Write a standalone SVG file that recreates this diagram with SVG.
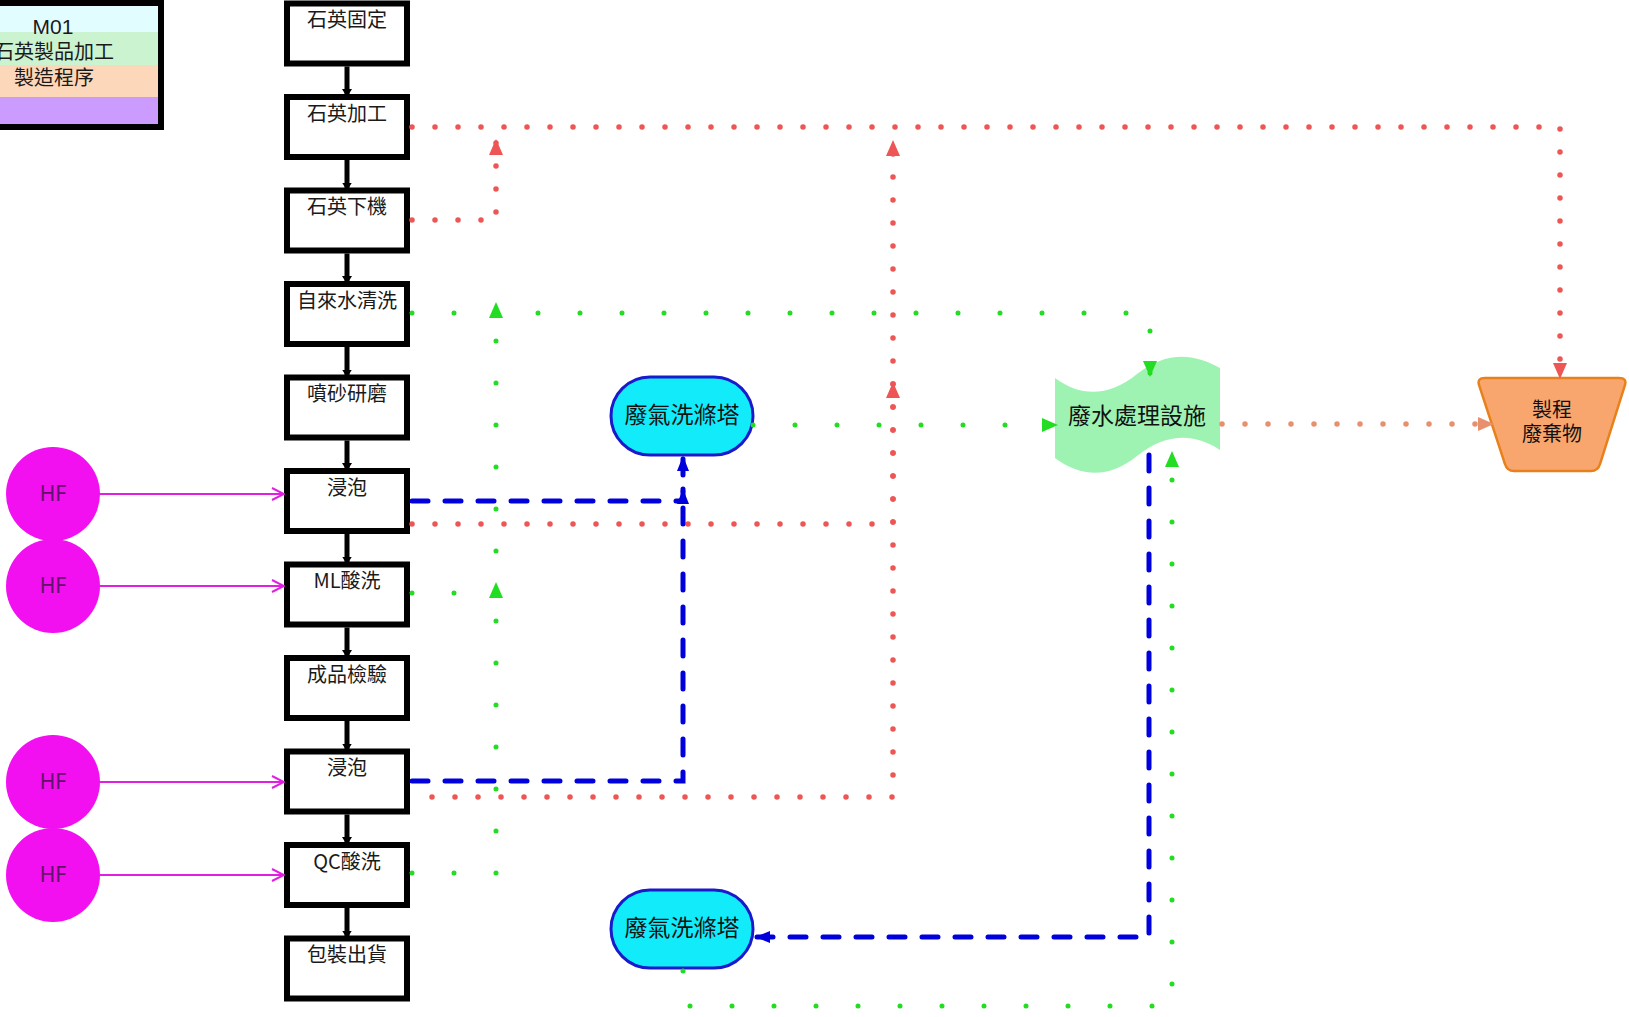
<svg xmlns="http://www.w3.org/2000/svg" width="1629" height="1017" viewBox="0 0 1629 1017">
<style>
.box{fill:#fff;stroke:#000;stroke-width:6}
.t{font-family:"Noto Sans CJK TC","Liberation Sans",sans-serif;font-size:20px;fill:#1a1a1a;text-anchor:middle}
.tl{font-family:"Noto Sans CJK TC","Liberation Sans",sans-serif;font-size:23px;fill:#111;text-anchor:middle}
.hf{fill:#f20ff0}
.hft{font-family:"Noto Sans","Liberation Sans",sans-serif;font-size:21px;fill:#5e1466;text-anchor:middle}
.flow{fill:none;stroke:#000;stroke-width:5}
.mag{fill:none;stroke:#e21fe0;stroke-width:2}
.red{fill:none;stroke:#ee5656;stroke-width:5.5;stroke-linecap:round;stroke-dasharray:0 23}
.grn{fill:none;stroke:#22dd22;stroke-width:5;stroke-linecap:round;stroke-dasharray:0 42}
.org{fill:none;stroke:#e8906e;stroke-width:5.5;stroke-linecap:round;stroke-dasharray:0 23}
.blu{fill:none;stroke:#0000dd;stroke-width:5;stroke-linecap:round;stroke-dasharray:16 17}
.scr{fill:#12ecfa;stroke:#1a1acc;stroke-width:3}
</style>
<defs>
<marker id="mRed" viewBox="0 0 16 16" markerWidth="16" markerHeight="16" refX="15" refY="8" orient="auto" markerUnits="userSpaceOnUse"><path d="M0,1 L16,8 L0,15 Z" fill="#ee5656"/></marker>
<marker id="mGrn" viewBox="0 0 16 16" markerWidth="16" markerHeight="16" refX="15" refY="8" orient="auto" markerUnits="userSpaceOnUse"><path d="M0,1 L16,8 L0,15 Z" fill="#22dd22"/></marker>
<marker id="mOrg" viewBox="0 0 16 16" markerWidth="16" markerHeight="16" refX="15" refY="8" orient="auto" markerUnits="userSpaceOnUse"><path d="M0,1 L16,8 L0,15 Z" fill="#e8906e"/></marker>
<marker id="mBlu" viewBox="0 0 16 16" markerWidth="16" markerHeight="16" refX="15" refY="8" orient="auto" markerUnits="userSpaceOnUse"><path d="M0,2 L15,8 L0,14 Z" fill="#0000dd"/></marker>
<marker id="mBlk" viewBox="0 0 8 10" markerWidth="8" markerHeight="10" refX="7" refY="5" orient="auto" markerUnits="userSpaceOnUse"><path d="M0,0 L8,5 L0,10 Z" fill="#000"/></marker>
<marker id="mMag" viewBox="0 0 14 14" markerWidth="14" markerHeight="14" refX="13" refY="7" orient="auto" markerUnits="userSpaceOnUse"><path d="M1,1 L13,7 L1,13" fill="none" stroke="#e21fe0" stroke-width="2"/></marker>
</defs>

<g id="legend">
<rect x="-10" y="3" width="171" height="29" fill="#e2fdff"/>
<rect x="-10" y="32" width="171" height="33" fill="#cbf3cf"/>
<rect x="-10" y="65" width="171" height="32" fill="#fdd7b9"/>
<rect x="-10" y="97" width="171" height="30" fill="#cb9bfd"/>
<rect x="-10" y="3" width="171" height="124" fill="none" stroke="#000" stroke-width="6"/>
<text x="53" y="34" class="t" style="font-family:'Liberation Sans',sans-serif;font-size:21px">M01</text>
<text x="54" y="59" class="t">石英製品加工</text>
<text x="54" y="85" class="t">製造程序</text>
</g>

<g id="n1"><rect class="box" x="287" y="3.5" width="120" height="60"/><text class="t" x="347" y="27">石英固定</text></g>
<g id="n2"><rect class="box" x="287" y="97" width="120" height="60"/><text class="t" x="347" y="120.5">石英加工</text></g>
<g id="n3"><rect class="box" x="287" y="190.5" width="120" height="60"/><text class="t" x="347" y="214">石英下機</text></g>
<g id="n4"><rect class="box" x="287" y="284" width="120" height="60"/><text class="t" x="347" y="307.5">自來水清洗</text></g>
<g id="n5"><rect class="box" x="287" y="377.5" width="120" height="60"/><text class="t" x="347" y="401">噴砂研磨</text></g>
<g id="n6"><rect class="box" x="287" y="471" width="120" height="60"/><text class="t" x="347" y="494.5">浸泡</text></g>
<g id="n7"><rect class="box" x="287" y="564.5" width="120" height="60"/><text class="t" x="347" y="588">ML酸洗</text></g>
<g id="n8"><rect class="box" x="287" y="658" width="120" height="60"/><text class="t" x="347" y="681.5">成品檢驗</text></g>
<g id="n9"><rect class="box" x="287" y="751.5" width="120" height="60"/><text class="t" x="347" y="775">浸泡</text></g>
<g id="n10"><rect class="box" x="287" y="845" width="120" height="60"/><text class="t" x="347" y="868.5">QC酸洗</text></g>
<g id="n11"><rect class="box" x="287" y="938.5" width="120" height="60"/><text class="t" x="347" y="962">包裝出貨</text></g>

<g id="hf1"><circle class="hf" cx="53" cy="494" r="47"/><text class="hft" x="53" y="501">HF</text></g>
<g id="hf2"><circle class="hf" cx="53" cy="586" r="47"/><text class="hft" x="53" y="593">HF</text></g>
<g id="hf3"><circle class="hf" cx="53" cy="782" r="47"/><text class="hft" x="53" y="789">HF</text></g>
<g id="hf4"><circle class="hf" cx="53" cy="875" r="47"/><text class="hft" x="53" y="882">HF</text></g>

<g id="scrubber1"><rect class="scr" x="611" y="377" width="142" height="78" rx="39"/><text class="tl" x="682" y="423">廢氣洗滌塔</text></g>
<g id="scrubber2"><rect class="scr" x="611" y="890" width="142" height="78" rx="39"/><text class="tl" x="682" y="936">廢氣洗滌塔</text></g>

<g id="wastewater"><path d="M1055,378 C1082,398 1110,396 1137,374 C1165,352 1192,352 1220,368 L1220,450 C1192,432 1165,434 1137,456 C1110,478 1082,478 1055,458 Z" fill="#9ff3b2"/><text class="tl" x="1137" y="424">廢水處理設施</text></g>

<g id="waste"><path d="M1485,378 H1619 Q1627,378 1625,385 L1600,464 Q1598,471 1591,471 H1514 Q1507,471 1505,464 L1479,385 Q1477,378 1485,378 Z" fill="#f9a66e" stroke="#e8801c" stroke-width="2.5"/><text class="tl" style="font-size:20px"><tspan x="1552" y="417">製程</tspan><tspan x="1552" y="441">廢棄物</tspan></text></g>

<g id="connectors">
<path class="flow" d="M347,66.5 V96" marker-end="url(#mBlk)"/>
<path class="flow" d="M347,160 V189.5" marker-end="url(#mBlk)"/>
<path class="flow" d="M347,253.5 V283" marker-end="url(#mBlk)"/>
<path class="flow" d="M347,347 V376.5" marker-end="url(#mBlk)"/>
<path class="flow" d="M347,440.5 V470" marker-end="url(#mBlk)"/>
<path class="flow" d="M347,534 V563.5" marker-end="url(#mBlk)"/>
<path class="flow" d="M347,627.5 V657" marker-end="url(#mBlk)"/>
<path class="flow" d="M347,721 V750.5" marker-end="url(#mBlk)"/>
<path class="flow" d="M347,814.5 V844" marker-end="url(#mBlk)"/>
<path class="flow" d="M347,908 V937.5" marker-end="url(#mBlk)"/>

<path class="mag" d="M100,494 H284" marker-end="url(#mMag)"/>
<path class="mag" d="M100,586 H284" marker-end="url(#mMag)"/>
<path class="mag" d="M100,782 H284" marker-end="url(#mMag)"/>
<path class="mag" d="M100,875 H284" marker-end="url(#mMag)"/>

<path class="red" d="M412,127 H1560 V378" marker-end="url(#mRed)"/>
<path class="red" d="M412,220 H496 V140" marker-end="url(#mRed)"/>
<path class="red" d="M412,524 H893 V141" marker-end="url(#mRed)"/>
<path class="red" d="M412,797 H893 V383" marker-end="url(#mRed)" style="stroke-dashoffset:3"/>

<path class="grn" d="M412,313 H1150 V376" marker-end="url(#mGrn)"/>
<path class="grn" d="M412,593 H496 V303" marker-end="url(#mGrn)"/>
<path class="grn" d="M412,873 H496 V583" marker-end="url(#mGrn)"/>
<path class="grn" d="M753,425 H1057" marker-end="url(#mGrn)"/>
<path class="grn" d="M683,971 V1006 H1172 V452" marker-end="url(#mGrn)"/>

<path class="org" d="M1222,424 H1493" marker-end="url(#mOrg)"/>

<path class="blu" d="M412,501 H683 V456" marker-end="url(#mBlu)"/>
<path class="blu" d="M412,781 H683 V489" marker-end="url(#mBlu)"/>
<path class="blu" d="M1149,455 V937 H755" marker-end="url(#mBlu)"/>
</g>
</svg>
